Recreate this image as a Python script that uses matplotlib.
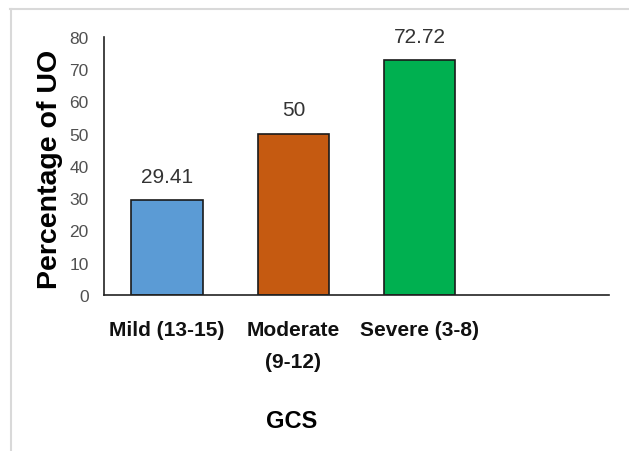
import matplotlib.pyplot as plt
from matplotlib.lines import Line2D

# data
categories = ["Mild (13-15)", "Moderate\n(9-12)", "Severe (3-8)", ""]
values = [29.41, 50, 72.72, None]
value_labels = ["29.41", "50", "72.72"]
bar_colors = ["#5B9BD5", "#C55A11", "#00B050"]
y_ticks = [0, 10, 20, 30, 40, 50, 60, 70, 80]

plt.rcParams["font.family"] = ["Liberation Sans", "DejaVu Sans"]

W, H = 629, 452
fig = plt.figure(figsize=(W / 100, H / 100), dpi=100)
fig.patch.set_facecolor("white")

# light grey frame on top and left
fig.add_artist(Line2D([10 / W, 628 / W], [1 - 10 / H, 1 - 10 / H], color="#d9d9d9", lw=1.5))
fig.add_artist(Line2D([10.5 / W, 10.5 / W], [0, 1 - 10 / H], color="#d9d9d9", lw=1.5))

ax = fig.add_axes([104 / W, 1 - 296 / H, 505 / W, 258 / H])

x = list(range(len(categories)))
bar_x = [i for i, v in enumerate(values) if v is not None]
bar_v = [v for v in values if v is not None]
ax.bar(bar_x, bar_v, width=0.565, color=bar_colors, edgecolor="#1a1a1a", linewidth=1.2)

for xi, v, lab in zip(bar_x, bar_v, value_labels):
    ax.text(xi, v + 4.5, lab, ha="center", va="bottom", fontsize=15, color="#333333")

ax.set_xlim(-0.5, 3.5)
ax.set_ylim(0, 80)
ax.set_yticks(y_ticks)
ax.set_yticklabels([str(t) for t in y_ticks], fontsize=12.5, color="#505050")
ax.set_xticks(x)
ax.set_xticklabels(categories, fontsize=15, fontweight="bold", color="#111111",
                   linespacing=1.9, va="top")
ax.tick_params(axis="both", length=0)
ax.tick_params(axis="y", pad=11)
ax.tick_params(axis="x", pad=18)

for s in ["top", "right"]:
    ax.spines[s].set_visible(False)
ax.spines["left"].set_color("#222222")
ax.spines["bottom"].set_color("#222222")
ax.spines["left"].set_linewidth(1.2)
ax.spines["bottom"].set_linewidth(1.2)

ax.set_ylabel("Percentage of UO", fontsize=20.5, fontweight="bold")
ax.yaxis.set_label_coords((50 - 104) / 505, 0.49)
ax.set_xlabel("GCS", fontsize=17, fontweight="bold")
ax.xaxis.set_label_coords((292 - 104) / 505, (296 - 421) / 258)
ax.xaxis.label.set_va("center")
ax.yaxis.label.set_va("center")

fig.savefig("out.png", dpi=100)
